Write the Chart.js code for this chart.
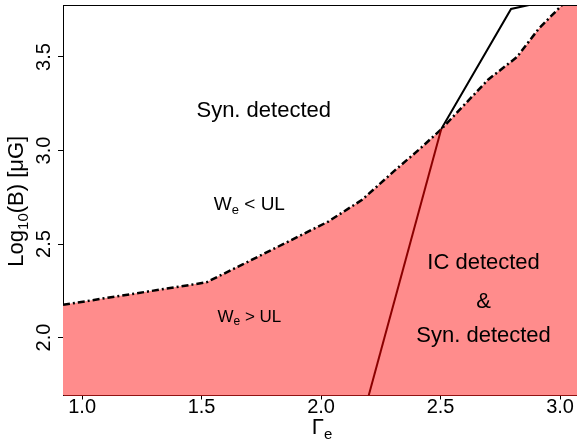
<!DOCTYPE html>
<html>
<head>
<meta charset="utf-8">
<script src="https://cdn.jsdelivr.net/npm/chart.js@4.4.1/dist/chart.umd.min.js"></script>
<style>
  html, body { margin: 0; padding: 0; background: #fff; }
  #wrap { width: 577px; height: 440px; position: relative; }
</style>
</head>
<body>
<div id="wrap"><canvas id="c"></canvas></div>
<script>
// ---------------- DATA ----------------
const xTicks = [1.0, 1.5, 2.0, 2.5, 3.0];
const yTicks = [2.0, 2.5, 3.0, 3.5];

// dash-dot boundary (W_e = UL), area below is filled
const boundaryGamma = [0.92, 1.52, 1.67, 1.85, 2.03, 2.17, 2.31, 2.41, 2.50, 2.70, 2.82, 2.91, 3.01, 3.08];
const boundaryLogB  = [2.175, 2.295, 2.39, 2.505, 2.62, 2.735, 2.895, 3.005, 3.11, 3.38, 3.50, 3.65, 3.78, 3.90];

// dark red line (IC limit)
const icGamma = [2.195, 2.503];
const icLogB  = [1.67, 3.115];

// black solid line (synchrotron limit)
const synGamma = [2.503, 2.795, 2.95];
const synLogB  = [3.115, 3.757, 3.80];

// region labels ("_{}" = subscript)
const labelText  = ["Syn. detected", "W_{e} < UL", "W_{e} > UL", "IC detected", "&", "Syn. detected"];
const labelGamma = [1.76, 1.70, 1.70, 2.68, 2.68, 2.68];
const labelLogB  = [3.21, 2.71, 2.11, 2.40, 2.19, 2.01];
const labelSize  = [22, 19, 17, 22, 22, 22];

const FONT = "'Liberation Sans', Arial, Helvetica, sans-serif";
Chart.defaults.font.family = FONT;
Chart.defaults.color = '#000';

const pts = (xs, ys) => xs.map((v, i) => ({x: v, y: ys[i]}));

// draw text with "_{..}" subscripts, centred at (cx, cy)
function richText(ctx, str, cx, cy, size){
  const parts = [];
  str.split(/(_\{[^}]*\})/).forEach(p => {
    if(!p) return;
    if(p.startsWith('_{')) parts.push({t: p.slice(2, -1), sub: true});
    else parts.push({t: p, sub: false});
  });
  const subSize = Math.round(size * 0.7);
  let total = 0;
  parts.forEach(p => {
    ctx.font = (p.sub ? subSize : size) + 'px ' + FONT;
    p.w = ctx.measureText(p.t).width;
    total += p.w;
  });
  let x = cx - total / 2;
  ctx.textAlign = 'left';
  ctx.textBaseline = 'middle';
  parts.forEach(p => {
    ctx.font = (p.sub ? subSize : size) + 'px ' + FONT;
    ctx.fillText(p.t, x, p.sub ? cy + size * 0.3 : cy);
    x += p.w;
  });
}

const decor = {
  id: 'decor',
  afterDraw(chart){
    const {ctx, chartArea: a, scales: {x, y}} = chart;
    ctx.save();
    // top frame line
    ctx.strokeStyle = '#000';
    ctx.lineWidth = 1;
    ctx.beginPath();
    ctx.moveTo(a.left, Math.round(a.top) + 0.5);
    ctx.lineTo(a.right, Math.round(a.top) + 0.5);
    ctx.stroke();

    ctx.fillStyle = '#000';
    labelText.forEach((t, i) => {
      richText(ctx, t, x.getPixelForValue(labelGamma[i]), y.getPixelForValue(labelLogB[i]), labelSize[i]);
    });

    // axis titles
    richText(ctx, '\u0393_{e}', (a.left + a.right) / 2 + 2, 428, 22);
    ctx.translate(17, (a.top + a.bottom) / 2 + 1);
    ctx.rotate(-Math.PI / 2);
    richText(ctx, 'Log_{10}(B) [\u03bcG]', 0, 0, 22);
    ctx.restore();
  }
};

new Chart(document.getElementById('c'), {
  type: 'scatter',
  data: {
    datasets: [
      {
        data: pts(synGamma, synLogB),
        showLine: true, pointRadius: 0, borderColor: '#000', borderWidth: 2, clip: 0
      },
      {
        data: pts(icGamma, icLogB),
        showLine: true, pointRadius: 0, borderColor: '#8b0000', borderWidth: 2, clip: 0
      },
      {
        data: pts(boundaryGamma, boundaryLogB),
        showLine: true, pointRadius: 0, borderColor: '#000', borderWidth: 2.5,
        borderDash: [7, 3, 2, 3],
        fill: 'start', backgroundColor: '#ff8c8c', clip: 0
      }
    ]
  },
  options: {
    responsive: true,
    maintainAspectRatio: false,
    animation: false,
    layout: { padding: { top: 5, right: 0, bottom: 0, left: 0 } },
    plugins: {
      legend: { display: false },
      tooltip: { enabled: false },
      filler: { drawTime: 'beforeDatasetsDraw' }
    },
    scales: {
      x: {
        type: 'linear',
        min: 0.92, max: 3.071,
        afterBuildTicks: s => { s.ticks = xTicks.map(v => ({value: v})); },
        afterFit: s => { s.height = 44.5; s.paddingLeft = 0; s.paddingRight = 0; },
        grid: { drawOnChartArea: false, drawTicks: true, tickLength: 4, tickColor: '#000' },
        border: { display: true, color: '#800000', width: 1 },
        ticks: {
          font: { size: 20, lineHeight: 0.8 }, padding: 0, color: '#000',
          maxRotation: 0, autoSkip: false,
          callback: v => v.toFixed(1)
        }
      },
      y: {
        type: 'linear',
        min: 1.69, max: 3.778,
        afterBuildTicks: s => { s.ticks = yTicks.map(v => ({value: v})); },
        afterFit: s => { s.width = 63; s.paddingTop = 0; s.paddingBottom = 0; },
        grid: { drawOnChartArea: false, drawTicks: true, tickLength: 5, tickColor: '#000' },
        border: { display: true, color: '#000', width: 1 },
        ticks: {
          font: { size: 20 }, padding: 0, color: '#000',
          minRotation: 90, maxRotation: 90, crossAlign: 'center', autoSkip: false,
          callback: v => v.toFixed(1)
        }
      }
    }
  },
  plugins: [decor]
});
</script>
</body>
</html>
